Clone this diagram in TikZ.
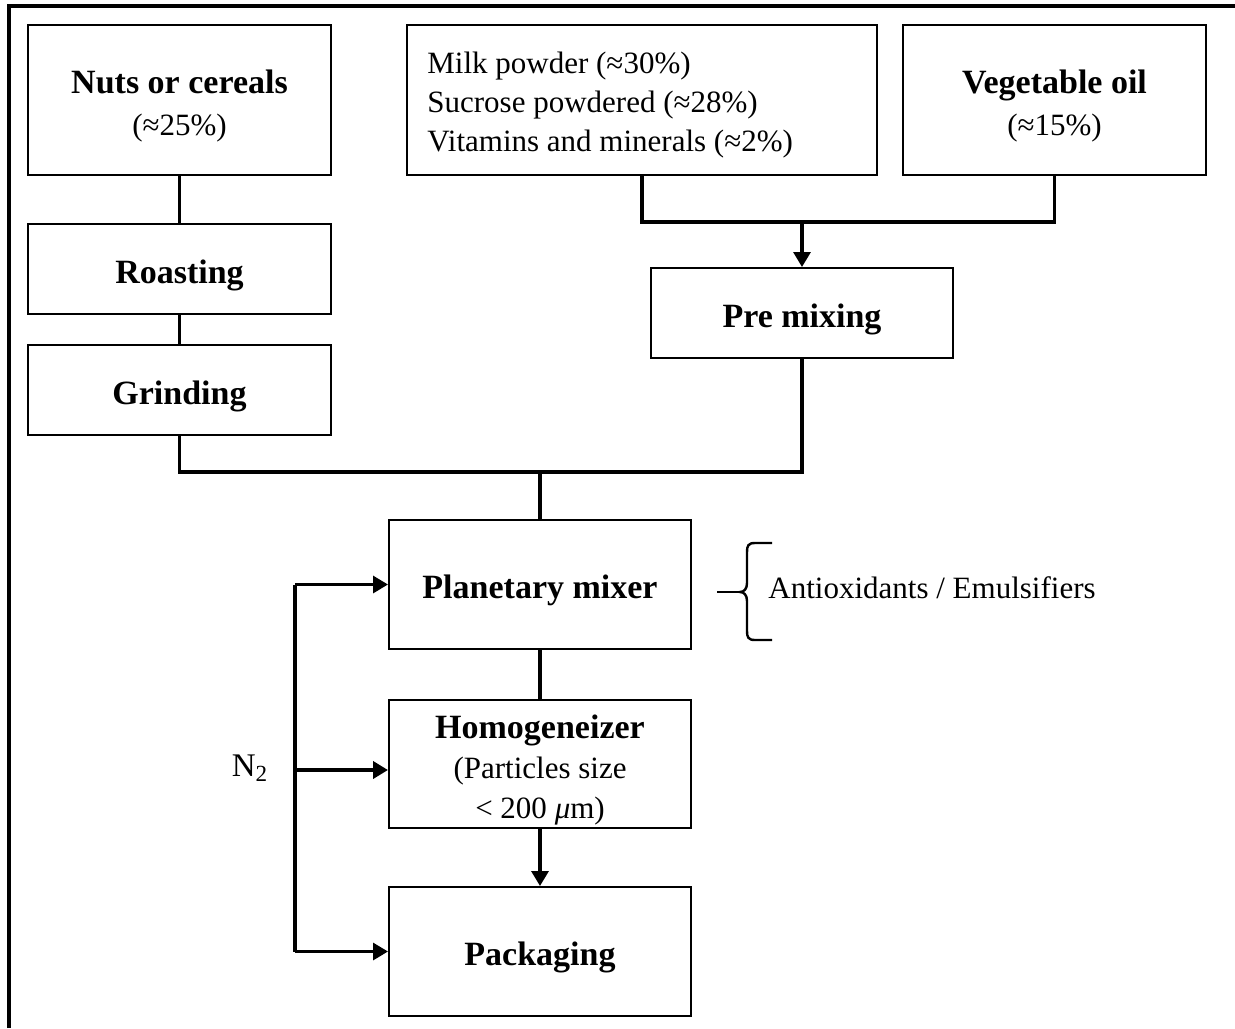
\documentclass[tikz,border=0pt]{standalone}
\usepackage{fontspec}
\setmainfont{Liberation Serif}
\usetikzlibrary{arrows.meta}
\newcommand\subtxt{\fontsize{15.5}{20}\selectfont\mdseries}
\begin{document}
\begin{tikzpicture}[x=0.5pt,y=-0.5pt,
  box/.style={draw, line width=1pt, inner sep=0pt},
  boxtxt/.style={inner sep=0pt, align=center, yshift=-3pt,
    font=\fontsize{17}{21}\selectfont\bfseries},
  conn/.style={line width=1.6pt},
  nline/.style={line width=2.4pt},
  tip/.style={-{Triangle[length=7.5pt,width=8.5pt]}},
  lbl/.style={inner sep=0pt, font=\fontsize{15.5}{19.3}\selectfont}
]
\useasboundingbox (0,0) rectangle (1235,1028);
\draw[line width=1.6pt] (9,1028) -- (9,6) -- (1235,6);

% boxes
\node[box, minimum width=151.5pt, minimum height=75pt,
  label={[name=nutsT, boxtxt]center:Nuts or cereals\\{\subtxt (≈25\%)}}] (nuts) at (179.5,100) {};
\node[box, minimum width=151.5pt, minimum height=45pt,
  label={[name=roastT, boxtxt]center:Roasting}] (roast) at (179.5,269) {};
\node[box, minimum width=151.5pt, minimum height=45pt,
  label={[name=grindT, boxtxt]center:Grinding}] (grind) at (179.5,390) {};
\node[box, minimum width=235pt, minimum height=75pt] (milk) at (642,100) {};
\node[lbl, anchor=west, align=left] (milktxt) at (427,105)
  {Milk powder (≈30\%)\\Sucrose powdered (≈28\%)\\Vitamins and minerals (≈2\%)};
\node[box, minimum width=151.5pt, minimum height=75pt,
  label={[name=vegT, boxtxt]center:Vegetable oil\\{\subtxt (≈15\%)}}] (veg) at (1054.5,100) {};
\node[box, minimum width=151pt, minimum height=45pt,
  label={[name=premixT, boxtxt]center:Pre mixing}] (premix) at (802,313) {};
\node[box, minimum width=151pt, minimum height=64.5pt,
  label={[name=planetT, boxtxt]center:Planetary mixer}] (planet) at (540,584.5) {};
\node[box, minimum width=151pt, minimum height=64pt,
  label={[name=homogT, boxtxt]center:Homogeneizer\\[-1pt]{\subtxt (Particles size}\\[-1pt]{\subtxt < 200 {\itshape μ}m)}}] (homog) at (540,764) {};
\node[box, minimum width=151pt, minimum height=64.5pt,
  label={[name=packT, boxtxt]center:Packaging}] (pack) at (540,951.5) {};

% joints
\coordinate (j1) at (802,222);
\coordinate (j2) at (540,472);
\coordinate (nx) at (295,0);

% connectors
\draw[conn] (nuts.south) -- (roast.north);
\draw[conn] (roast.south) -- (grind.north);
\draw[conn] (milk.south) -- (milk.south |- j1) -- (veg.south |- j1) -- (veg.south);
\draw[conn, tip] (j1) -- (premix.north);
\draw[conn] (grind.south) -- (grind.south |- j2) -- (premix.south |- j2) -- (premix.south);
\draw[conn] (j2) -- (planet.north);
\draw[conn] (planet.south) -- (homog.north);
\draw[conn, tip] (homog.south) -- (pack.north);

% N2 feed
\draw[nline] (nx |- planet.west) -- (nx |- pack.west);
\draw[conn, tip] (nx |- planet.west) -- (planet.west);
\draw[nline, tip] ([yshift=-3pt]nx |- homog.west) -- ([yshift=-3pt]homog.west);
\draw[conn, tip] (nx |- pack.west) -- (pack.west);
\node[lbl, font=\fontsize{16.5}{20}\selectfont] (n2) at (250,768) {N\textsubscript{2}};

% brace
\draw[line width=1.2pt] (772,543) -- (755,543) .. controls (748,543) and (747,546) .. (747,552)
  -- (747,583) .. controls (747,589) and (744,592) .. (740,592)
  .. controls (744,592) and (747,595) .. (747,601)
  -- (747,631) .. controls (747,637) and (748,640) .. (755,640) -- (772,640);
\draw[line width=1.2pt] (717,592) -- (740,592);
\node[lbl, anchor=west] (anti) at (768,588) {Antioxidants / Emulsifiers};
\end{tikzpicture}
\end{document}
